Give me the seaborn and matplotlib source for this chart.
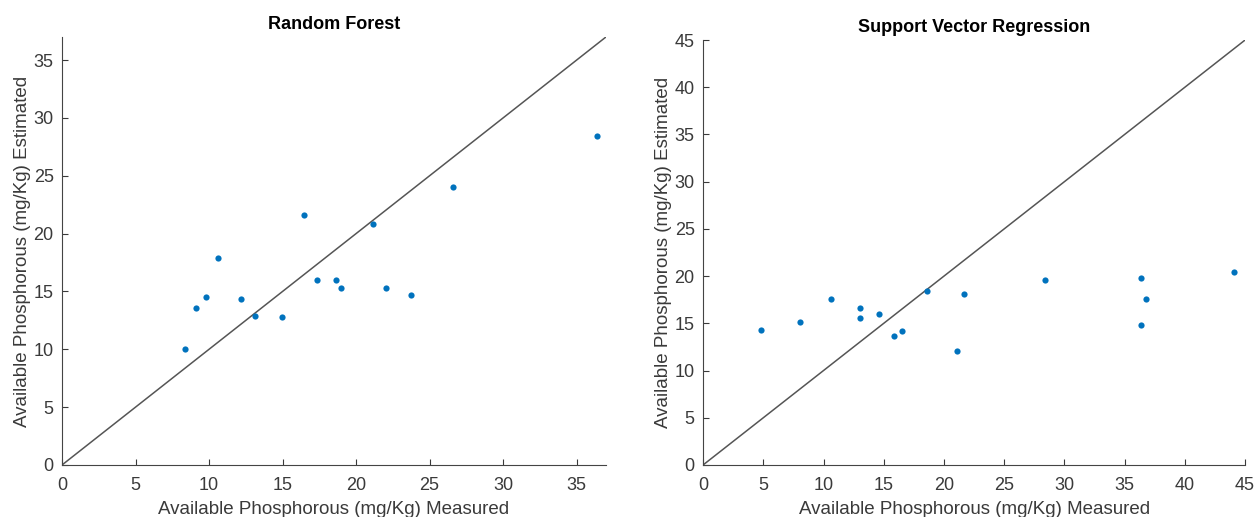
import matplotlib
matplotlib.use("Agg")
import matplotlib.pyplot as plt
import seaborn as sns
import pandas as pd

# Random Forest: measured vs estimated
rf_measured = [36.36, 26.60, 16.46, 21.13, 10.64, 17.37, 18.63, 18.99,
               22.04, 23.73, 9.76, 12.15, 9.13, 13.11, 14.98, 8.37]
rf_estimated = [28.40, 24.04, 21.59, 20.81, 17.86, 15.99, 15.99, 15.27,
                15.30, 14.72, 14.55, 14.37, 13.59, 12.84, 12.76, 9.99]

# Support Vector Regression: measured vs estimated
svr_measured = [4.80, 8.02, 10.61, 13.04, 13.04, 14.59, 15.87, 16.50,
                18.60, 21.67, 21.06, 28.42, 36.32, 36.75, 36.32, 44.10]
svr_estimated = [14.26, 15.14, 17.54, 16.58, 15.56, 15.95, 13.63, 14.15,
                 18.38, 18.06, 12.11, 19.58, 19.79, 17.57, 14.86, 20.46]

titles = ["Random Forest", "Support Vector Regression"]
x_label = "Available Phosphorous (mg/Kg) Measured"
y_label = "Available Phosphorous (mg/Kg) Estimated"
limits = [37, 45]
ticks = [list(range(0, 36, 5)), list(range(0, 46, 5))]

sns.set_theme(style="ticks")
plt.rcParams["font.family"] = ["Liberation Sans", "DejaVu Sans"]

fig = plt.figure(figsize=(12.55, 5.17), dpi=100)
axes = [fig.add_axes([0.0494, 0.1006, 0.4335, 0.828]),
        fig.add_axes([0.5602, 0.1006, 0.4319, 0.822])]

data = [(rf_measured, rf_estimated), (svr_measured, svr_estimated)]
axis_color = "#3a3a3a"
for ax, (mx, ey), title, lim, tk in zip(axes, data, titles, limits, ticks):
    diag = pd.DataFrame({"x": [0, lim], "y": [0, lim]})
    sns.lineplot(data=diag, x="x", y="y", ax=ax, color="#555555", linewidth=1.1)
    df = pd.DataFrame({"m": mx, "e": ey})
    sns.scatterplot(data=df, x="m", y="e", ax=ax, color="#0072BD", s=20,
                    linewidth=0, zorder=3)
    ax.set_xlim(0, lim)
    ax.set_ylim(0, lim)
    ax.set_xticks(tk)
    ax.set_yticks(tk)
    ax.tick_params(direction="in", length=4, width=0.8, colors=axis_color,
                   labelsize=13)
    ax.tick_params(axis="x", pad=9)
    ax.tick_params(axis="y", pad=6)
    for s in ["top", "right"]:
        ax.spines[s].set_visible(False)
    for s in ["left", "bottom"]:
        ax.spines[s].set_color("#444444")
        ax.spines[s].set_linewidth(0.8)
    ax.set_xlabel(x_label, fontsize=13.5, color=axis_color, labelpad=5)
    ax.set_ylabel(y_label, fontsize=13.5, color=axis_color, labelpad=2)
    ax.set_title(title, fontsize=13, fontweight="bold", color="black", pad=6)

fig.savefig("out.png", dpi=100)
